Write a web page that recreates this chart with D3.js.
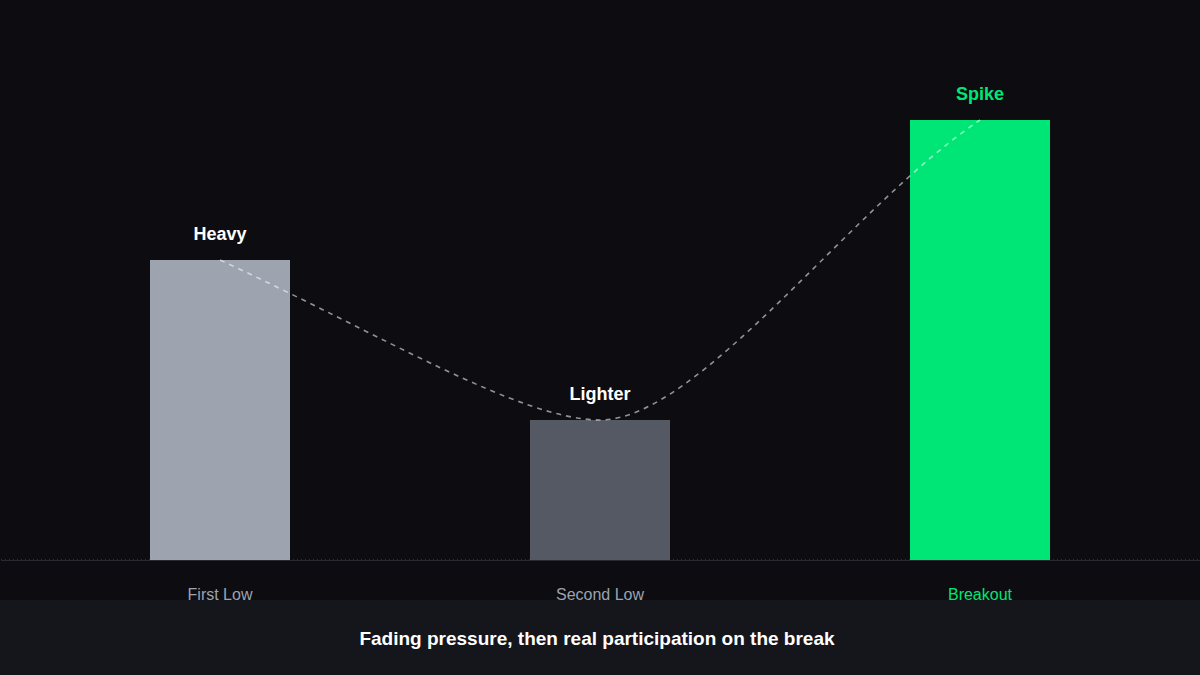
<!DOCTYPE html>
<html>
<head>
<meta charset="utf-8">
<script src="https://cdn.jsdelivr.net/npm/d3@7"></script>
<style>
  html, body { margin: 0; padding: 0; background: #0d0d11; }
  svg { display: block; }
</style>
</head>
<body>
<script>
// ---- data ----
const categories = ["First Low", "Second Low", "Breakout"];
const volumes = [60, 28, 88];
const barLabels = ["Heavy", "Lighter", "Spike"];
const barColors = ["#9ea4af", "#555963", "#00e676"];
const categoryLabelColors = ["#9ca3af", "#9ca3af", "#00e676"];
const barLabelColors = ["#ffffff", "#ffffff", "#00e676"];
const caption = "Fading pressure, then real participation on the break";

const W = 1200, H = 675;
const svg = d3.select("body").append("svg").attr("width", W).attr("height", H);

svg.append("rect").attr("width", W).attr("height", H).attr("fill", "#0d0d11");
svg.append("rect").attr("x", 0).attr("y", 600).attr("width", W).attr("height", 75).attr("fill", "#14161b");

const x = d3.scalePoint().domain(categories).range([30, 1170]).padding(0.5);
const y = d3.scaleLinear().domain([0, 100]).range([560, 60]);
const barW = 140;

// baseline
svg.append("line").attr("x1", 1).attr("x2", W).attr("y1", 559.5).attr("y2", 559.5)
  .attr("stroke", "#2a2e35").attr("stroke-dasharray", "1,3").attr("stroke-width", 1);
svg.append("line").attr("x1", 1).attr("x2", W).attr("y1", 560.5).attr("y2", 560.5)
  .attr("stroke", "#272a31").attr("stroke-width", 1.2);

// bars
svg.selectAll("rect.bar").data(categories).join("rect").attr("class", "bar")
  .attr("x", d => x(d) - barW / 2)
  .attr("y", (d, i) => y(volumes[i]))
  .attr("width", barW)
  .attr("height", (d, i) => y(0) - y(volumes[i]))
  .attr("fill", (d, i) => barColors[i]);

// dashed trend curve through bar tops
const pts = categories.map((c, i) => [x(c), y(volumes[i])]);
const p = d3.path();
p.moveTo(pts[0][0], pts[0][1]);
{
  const [a, b, c] = pts;
  let dx = b[0] - a[0], dy = b[1] - a[1];
  p.bezierCurveTo(a[0] + 0.42 * dx, a[1] + 0.46 * dy, b[0] - 0.21 * dx, b[1], b[0], b[1]);
  dx = c[0] - b[0]; dy = c[1] - b[1];
  p.bezierCurveTo(b[0] + 0.26 * dx, b[1], c[0] - 0.34 * dx, c[1] - 0.29 * dy, c[0], c[1]);
}
svg.append("path").attr("d", p.toString())
  .attr("fill", "none").attr("stroke", "#ffffff").attr("stroke-opacity", 0.55)
  .attr("stroke-width", 1.6).attr("stroke-dasharray", "5,5");

// bar labels
svg.selectAll("text.bl").data(categories).join("text").attr("class", "bl")
  .attr("x", d => x(d))
  .attr("y", (d, i) => y(volumes[i]) - 20)
  .attr("text-anchor", "middle")
  .attr("font-family", "'Liberation Sans', Arial, sans-serif")
  .attr("font-weight", "bold").attr("font-size", 18)
  .attr("fill", (d, i) => barLabelColors[i])
  .text((d, i) => barLabels[i]);

// category labels
svg.selectAll("text.cl").data(categories).join("text").attr("class", "cl")
  .attr("x", d => x(d))
  .attr("y", 600)
  .attr("text-anchor", "middle")
  .attr("font-family", "'Liberation Sans', Arial, sans-serif")
  .attr("font-size", 16)
  .attr("fill", (d, i) => categoryLabelColors[i])
  .text(d => d);

// caption
svg.append("text").attr("x", 597).attr("y", 645)
  .attr("text-anchor", "middle")
  .attr("font-family", "'Liberation Sans', Arial, sans-serif")
  .attr("font-weight", "bold").attr("font-size", 19)
  .attr("fill", "#ffffff")
  .text(caption);
</script>
</body>
</html>
